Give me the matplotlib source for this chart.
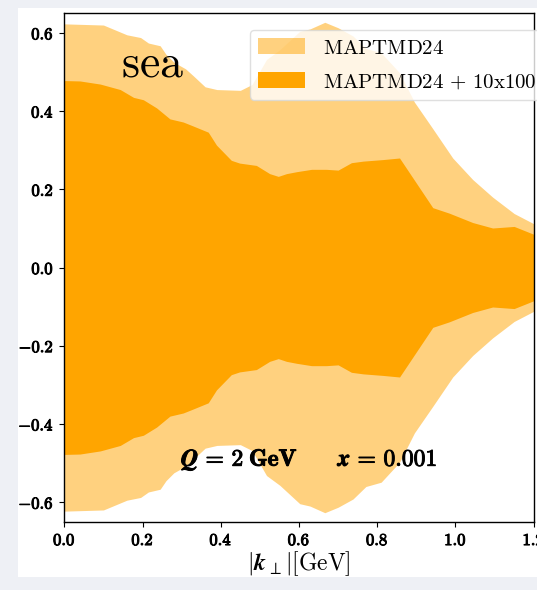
import matplotlib
matplotlib.use("Agg")
import matplotlib.pyplot as plt
import matplotlib.patheffects as pe
import numpy as np
from matplotlib.patches import Rectangle
from matplotlib.ticker import FuncFormatter

plt.rcParams["mathtext.fontset"] = "cm"
plt.rcParams["font.family"] = ["DejaVu Serif"]

# transverse momentum grid and symmetric half-widths of the two uncertainty bands
kt_outer = [0.0, 0.10, 0.16, 0.195, 0.215, 0.245, 0.26, 0.28, 0.31, 0.33, 0.36,
            0.39, 0.45, 0.48, 0.517, 0.551, 0.602, 0.628, 0.666, 0.700, 0.738,
            0.771, 0.810, 0.857, 0.895, 0.942, 0.993, 1.044, 1.095, 1.150, 1.2]
width_outer = [0.623, 0.620, 0.595, 0.588, 0.574, 0.567, 0.545, 0.525, 0.508,
               0.490, 0.462, 0.455, 0.453, 0.468, 0.532, 0.557, 0.604, 0.610,
               0.627, 0.613, 0.592, 0.560, 0.549, 0.498, 0.423, 0.355, 0.280,
               0.225, 0.180, 0.138, 0.112]

kt_inner = [0.0, 0.04, 0.092, 0.143, 0.177, 0.202, 0.236, 0.270, 0.304, 0.329,
            0.368, 0.389, 0.427, 0.448, 0.491, 0.525, 0.547, 0.568, 0.594, 0.632,
            0.670, 0.700, 0.734, 0.764, 0.815, 0.857, 0.942, 0.984, 1.044, 1.095,
            1.150, 1.2]
width_inner = [0.478, 0.477, 0.469, 0.455, 0.435, 0.429, 0.408, 0.380, 0.372,
               0.362, 0.346, 0.313, 0.274, 0.267, 0.261, 0.240, 0.233, 0.240,
               0.245, 0.251, 0.251, 0.249, 0.268, 0.272, 0.276, 0.280, 0.153,
               0.139, 0.115, 0.101, 0.105, 0.085]

band_labels = [r"$\mathrm{MAPTMD24}$", r"$\mathrm{MAPTMD24}\,+\,\mathrm{10x100}$"]
x_ticks = [0.0, 0.2, 0.4, 0.6, 0.8, 1.0, 1.2]
y_ticks = [-0.6, -0.4, -0.2, 0.0, 0.2, 0.4, 0.6]

fig = plt.figure(figsize=(5.37, 5.90), dpi=100)
fig.patch.set_facecolor("#eef0f5")
fig.add_artist(Rectangle((18 / 537, 13 / 590), 1.0, 569 / 590,
                         transform=fig.transFigure, facecolor="white",
                         edgecolor="none", zorder=-10))

ax = fig.add_axes([64.3 / 537, (590 - 521.7) / 590, (533.7 - 64.3) / 537,
                   (521.7 - 13.3) / 590])

ko = np.array(kt_outer)
wo = np.array(width_outer)
ki = np.array(kt_inner)
wi = np.array(width_inner)
ax.fill_between(ko, -wo, wo, color="orange", alpha=0.5, lw=0, label=band_labels[0])
ax.fill_between(ki, -wi, wi, color="orange", alpha=1.0, lw=0, label=band_labels[1])

ax.set_xlim(0, 1.2)
ax.set_ylim(-0.65, 0.65)
ax.set_xticks(x_ticks)
ax.set_yticks(y_ticks)


def bold_tick(v, pos):
    s = f"{v:.1f}"
    if s.startswith("-"):
        return r"$-\mathbf{" + s[1:] + "}$"
    return r"$\mathbf{" + s + "}$"


heavy = [pe.withStroke(linewidth=0.7, foreground="black")]

ax.xaxis.set_major_formatter(FuncFormatter(bold_tick))
ax.yaxis.set_major_formatter(FuncFormatter(bold_tick))
ax.tick_params(axis="both", labelsize=12, length=3.5, width=0.8, pad=4,
               direction="out")
for lbl in ax.get_xticklabels() + ax.get_yticklabels():
    lbl.set_path_effects(heavy)
for sp in ax.spines.values():
    sp.set_linewidth(1.0)

ax.set_xlabel(r"$|\boldsymbol{k}_{\perp}|[\mathrm{GeV}]$", fontsize=17, labelpad=0)

ax.text(0.144, 0.489, r"$\mathrm{sea}$", fontsize=33, ha="left", va="baseline")
ax.text(0.298, -0.507, r"$\boldsymbol{Q}\mathbf{\,=\,2\;GeV}$",
        fontsize=17, ha="left", va="baseline", path_effects=heavy)
ax.text(0.700, -0.507, r"$\boldsymbol{x}\mathbf{\,=\,0.001}$",
        fontsize=17, ha="left", va="baseline", path_effects=heavy)

leg = ax.legend(loc="upper left",
                bbox_to_anchor=((250 - 64.3) / 469.4, (521.7 - 30) / 508.4),
                borderaxespad=0, fontsize=15, frameon=True, fancybox=True,
                framealpha=0.8, handlelength=2.25, handleheight=0.8,
                handletextpad=0.85, borderpad=0.4, labelspacing=0.7)
leg.get_frame().set_edgecolor("#d8d8d8")

fig.savefig("out.png", dpi=100, facecolor=fig.get_facecolor())
